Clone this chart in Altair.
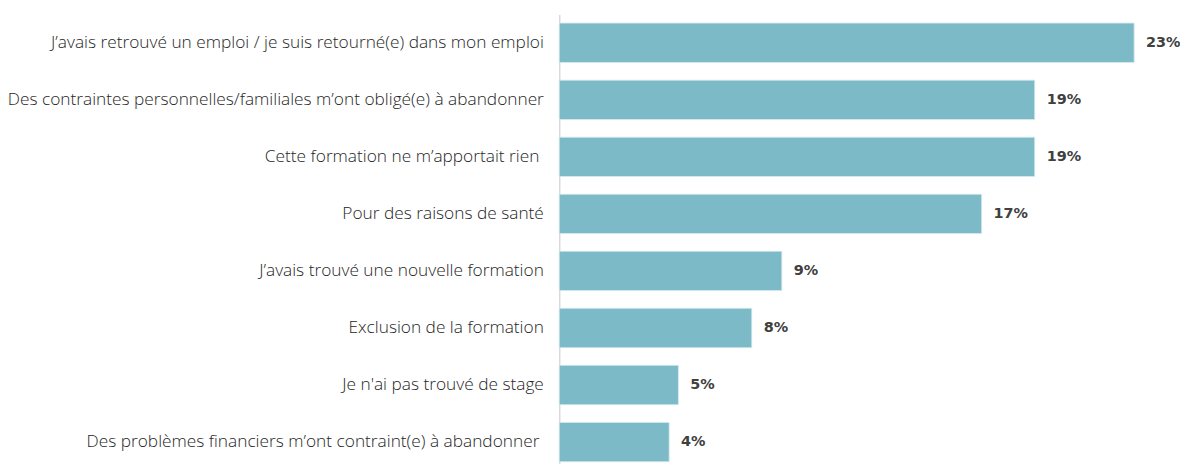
import altair as alt
import pandas as pd

categories = [
    "J’avais retrouvé un emploi / je suis retourné(e) dans mon emploi",
    "Des contraintes personnelles/familiales m’ont obligé(e) à abandonner",
    "Cette formation ne m’apportait rien\u00a0\u200b",
    "Pour des raisons de santé",
    "J’avais trouvé une nouvelle formation",
    "Exclusion de la formation",
    "Je n'ai pas trouvé de stage",
    "Des problèmes financiers m’ont contraint(e) à abandonner\u00a0\u200b",
]
values = [22.96, 18.99, 18.99, 16.87, 8.89, 7.69, 4.76, 4.39]
labels = ["23%", "19%", "19%", "17%", "9%", "8%", "5%", "4%"]

df = pd.DataFrame({"cat": categories, "val": values, "lab": labels})

base = alt.Chart(df).encode(
    y=alt.Y(
        "cat:N",
        sort=None,
        title=None,
        scale=alt.Scale(paddingInner=0.31, paddingOuter=0.15),
        axis=alt.Axis(
            domain=True,
            domainColor="#d9d9d9",
            domainWidth=1.5,
            ticks=False,
            labelPadding=16,
            labelFont="Open Sans",
            labelFontSize=17.4,
            labelFontWeight=300,
            labelColor="#262626",
            labelLimit=600,
        ),
    ),
    x=alt.X(
        "val:Q",
        title=None,
        scale=alt.Scale(domain=[0, 23.8], nice=False, zero=True),
        axis=None,
    ),
)

bars = base.mark_bar(color="#7cbac7", stroke="#d6ebef", strokeWidth=0.8)
text = base.mark_text(
    align="left",
    baseline="middle",
    dx=12,
    font="DejaVu Sans",
    fontSize=14.5,
    fontWeight="bold",
    color="#404040",
).encode(text="lab:N")

chart = (
    (bars + text)
    .properties(
        width=600,
        height=alt.Step(57.43),
        autosize=alt.AutoSizeParams(type="none"),
        padding={"left": 555, "top": 5, "right": 25, "bottom": 0},
    )
    .configure_view(stroke=None)
)

chart.save("out.html", embed_options={"renderer": "svg", "actions": False})
